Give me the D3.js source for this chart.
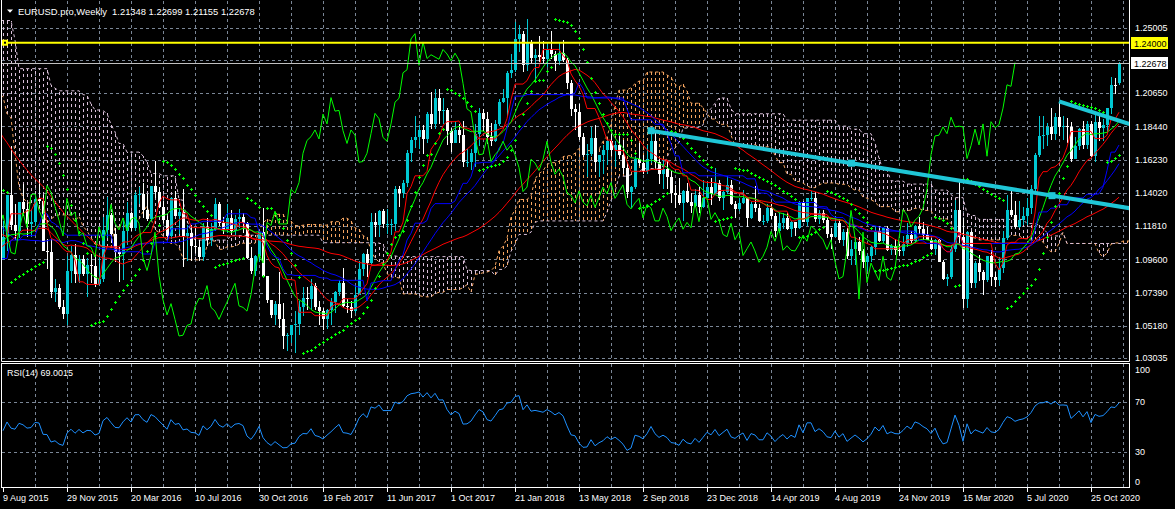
<!DOCTYPE html>
<html><head><meta charset="utf-8">
<script src="https://cdn.jsdelivr.net/npm/d3@7/dist/d3.min.js"></script>
<style>
html,body{margin:0;padding:0;background:#000;overflow:hidden}
svg{display:block}
text{font-family:"Liberation Sans",Arial,sans-serif;font-size:9px;fill:#fff;white-space:pre}
</style></head><body>
<svg id="c" width="1175" height="509"></svg>
<script>
// ---------------- DATA ----------------
// Warm-up weeks (2 Feb 2014 .. 2 Aug 2015), only used by the indicators
const preOpen0 = 1.3485;
const preHigh = [1.3620,1.3715,1.3775,1.3825,1.3915,1.3965,1.3935,1.3875,1.3810,1.3905,1.3905,1.3855,1.3890,1.3995,1.3775,1.3735,1.3650,1.3675,1.3675,1.3645,1.3655,1.3700,1.3650,1.3640,1.3525,1.3440,1.3445,1.3435,1.3400,1.3250,1.3155,1.2995,1.3000,1.2860,1.2700,1.2790,1.2885,1.2835,1.2750,1.2535,1.2575,1.2600,1.2500,1.2455,1.2470,1.2570,1.2255,1.2245,
1.1970,1.1845,1.1680,1.1425,1.1535,1.1445,1.1450,1.1390,1.1245,1.0870,1.1045,1.1050,1.1035,1.1000,1.0850,1.0890,1.1290,1.1390,1.1470,1.1465,1.1055,1.1380,1.1385,1.1435,1.1410,1.1280,1.1215,1.1215,1.0985,1.1125,1.1000];
const preLow = [1.3475,1.3580,1.3640,1.3645,1.3725,1.3830,1.3750,1.3705,1.3675,1.3695,1.3790,1.3780,1.3795,1.3750,1.3650,1.3615,1.3585,1.3505,1.3525,1.3535,1.3570,1.3590,1.3575,1.3490,1.3420,1.3365,1.3335,1.3325,1.3220,1.3130,1.2860,1.2855,1.2780,1.2680,1.2500,1.2500,1.2625,1.2615,1.2440,1.2355,1.2390,1.2360,1.2385,1.2245,1.2245,1.2220,1.2165,1.1995,
1.1755,1.1460,1.1115,1.1100,1.1270,1.1270,1.1260,1.1175,1.0840,1.0460,1.0460,1.0800,1.0715,1.0600,1.0520,1.0660,1.0850,1.1075,1.1130,1.1000,1.0820,1.0890,1.1050,1.1190,1.1135,1.0955,1.0915,1.0810,1.0810,1.0910,1.0850];
const preClose = [1.3600,1.3695,1.3740,1.3800,1.3875,1.3910,1.3790,1.3750,1.3705,1.3885,1.3810,1.3830,1.3870,1.3760,1.3695,1.3630,1.3635,1.3640,1.3545,1.3605,1.3645,1.3595,1.3605,1.3525,1.3430,1.3425,1.3410,1.3400,1.3245,1.3130,1.2950,1.2965,1.2830,1.2685,1.2525,1.2630,1.2760,1.2670,1.2525,1.2450,1.2525,1.2390,1.2450,1.2285,1.2465,1.2225,1.2180,1.2000,
1.1840,1.1565,1.1205,1.1290,1.1315,1.1390,1.1380,1.1195,1.0845,1.0495,1.0825,1.0890,1.0970,1.0600,1.0805,1.0875,1.1200,1.1200,1.1445,1.1015,1.0985,1.1110,1.1265,1.1350,1.1165,1.1105,1.1160,1.0830,1.0980,1.0985,1.0970];

// Visible weekly bars, 9 Aug 2015 .. 13 Dec 2020 (open = previous close, last open given)
const lastOpen = 1.21348;
const high = [1.1215,1.1390,1.1715,1.1330,1.1335,1.1460,1.1335,1.1295,1.1385,1.1495,1.1385,1.1095,1.1095,1.0830,1.0795,1.0690,1.0985,1.1045,1.1060,1.0990,1.0990,
1.0970,1.0995,1.0990,1.0985,1.1240,1.1375,1.1265,1.1165,1.1040,1.1220,1.1340,1.1275,1.1410,1.1440,1.1465,1.1395,1.1450,1.1615,1.1440,1.1350,1.1250,1.1375,1.1415,1.1300,1.1430,1.1185,1.1185,1.1165,1.1085,1.1200,1.1235,1.1200,1.1365,1.1340,1.1240,1.1330,1.1285,1.1255,1.1295,1.1265,1.1205,1.1040,1.0990,1.1145,1.1300,1.0850,1.0690,1.0685,1.0875,1.0670,1.0470,1.0490,
1.0615,1.0685,1.0775,1.0775,1.0830,1.0805,1.0680,1.0635,1.0630,1.0700,1.0750,1.0825,1.0905,1.0695,1.0680,1.0780,1.0950,1.1000,1.1025,1.1265,1.1270,1.1285,1.1295,1.1295,1.1225,1.1445,1.1445,1.1490,1.1685,1.1775,1.1910,1.1850,1.1850,1.1940,1.2070,1.2090,1.2090,1.2035,1.1965,1.1835,1.1880,1.1860,1.1880,1.1690,1.1690,1.1860,1.1965,1.1960,1.1940,1.1865,1.1885,1.2025,
1.2090,1.2215,1.2325,1.2535,1.2520,1.2480,1.2555,1.2415,1.2355,1.2445,1.2410,1.2390,1.2475,1.2345,1.2395,1.2415,1.2295,1.2155,1.1995,1.1995,1.1800,1.1725,1.1840,1.1855,1.1655,1.1720,1.1755,1.1790,1.1745,1.1790,1.1750,1.1610,1.1450,1.1645,1.1735,1.1650,1.1720,1.1815,1.1815,1.1625,1.1625,1.1620,1.1545,1.1455,1.1500,1.1420,1.1470,1.1400,1.1425,1.1440,1.1485,1.1470,
1.1500,1.1570,1.1485,1.1420,1.1515,1.1490,1.1345,1.1370,1.1420,1.1375,1.1340,1.1450,1.1325,1.1255,1.1325,1.1325,1.1265,1.1265,1.1265,1.1265,1.1215,1.1210,1.1350,1.1350,1.1370,1.1415,1.1410,1.1290,1.1285,1.1240,1.1170,1.1250,1.1230,1.1160,1.1165,1.1085,1.1110,1.1110,1.1025,1.0995,1.1045,1.1180,1.1180,1.1175,1.1180,1.1060,1.1095,1.1060,1.1115,1.1200,1.1145,1.1190,
1.1240,1.1205,1.1175,1.1100,1.1095,1.1095,1.0955,1.0865,1.1055,1.1355,1.1495,1.1235,1.1145,1.1145,1.0950,1.0990,1.0890,1.0975,1.1020,1.0875,1.0975,1.1145,1.1385,1.1420,1.1350,1.1350,1.1305,1.1370,1.1455,1.1665,1.1910,1.1915,1.1865,1.1965,1.1930,1.2010,1.1915,1.1900,1.1870,1.1770,1.1830,1.1880,1.1880,1.1880,1.1920,1.1920,1.1895,1.1965,1.2175,1.2165,1.22699];
const low = [1.0955,1.1015,1.1155,1.1085,1.1100,1.1245,1.1105,1.1105,1.1180,1.1325,1.1015,1.0895,1.0705,1.0675,1.0630,1.0565,1.0525,1.0800,1.0805,1.0805,1.0850,
1.0710,1.0805,1.0775,1.0790,1.0810,1.1100,1.1065,1.0940,1.0810,1.0820,1.1055,1.1145,1.1145,1.1325,1.1235,1.1215,1.1215,1.1365,1.1300,1.1200,1.1110,1.1095,1.1245,1.1130,1.0910,1.0950,1.0950,1.1000,1.0950,1.0950,1.1045,1.1045,1.1150,1.1180,1.1125,1.1135,1.1120,1.1120,1.1165,1.1135,1.0965,1.0860,1.0850,1.0940,1.0845,1.0670,1.0570,1.0520,1.0505,1.0365,1.0350,1.0400,
1.0340,1.0455,1.0580,1.0620,1.0620,1.0620,1.0520,1.0490,1.0495,1.0525,1.0600,1.0715,1.0645,1.0605,1.0570,1.0605,1.0720,1.0850,1.0840,1.0925,1.1110,1.1110,1.1170,1.1130,1.1120,1.1150,1.1310,1.1370,1.1440,1.1610,1.1700,1.1690,1.1660,1.1730,1.1825,1.1825,1.1860,1.1860,1.1720,1.1670,1.1730,1.1730,1.1575,1.1575,1.1555,1.1575,1.1715,1.1810,1.1725,1.1715,1.1740,1.1845,
1.2000,1.1915,1.2165,1.2205,1.2335,1.2205,1.2210,1.2260,1.2155,1.2270,1.2260,1.2240,1.2290,1.2215,1.2255,1.2270,1.2095,1.1910,1.1820,1.1750,1.1640,1.1510,1.1645,1.1540,1.1510,1.1525,1.1590,1.1645,1.1575,1.1625,1.1530,1.1365,1.1300,1.1430,1.1580,1.1525,1.1530,1.1600,1.1570,1.1460,1.1430,1.1430,1.1335,1.1300,1.1320,1.1215,1.1335,1.1265,1.1310,1.1270,1.1300,1.1370,
1.1320,1.1395,1.1350,1.1290,1.1395,1.1320,1.1235,1.1280,1.1325,1.1175,1.1225,1.1275,1.1210,1.1185,1.1200,1.1225,1.1110,1.1135,1.1160,1.1155,1.1105,1.1115,1.1160,1.1205,1.1180,1.1345,1.1205,1.1195,1.1200,1.1100,1.1025,1.1110,1.1065,1.1050,1.0965,1.0925,1.0925,1.0990,1.0905,1.0880,1.0940,1.0990,1.1075,1.1070,1.1015,1.0990,1.0990,1.0980,1.0980,1.1040,1.1065,1.1065,
1.1125,1.1085,1.1085,1.1020,1.0990,1.0940,1.0825,1.0780,1.0830,1.1005,1.1055,1.0635,1.0635,1.0770,1.0770,1.0815,1.0725,1.0810,1.0780,1.0775,1.0780,1.0870,1.1090,1.1240,1.1170,1.1170,1.1185,1.1185,1.1260,1.1400,1.1640,1.1695,1.1710,1.1755,1.1755,1.1780,1.1755,1.1735,1.1610,1.1625,1.1685,1.1690,1.1690,1.1640,1.1605,1.1745,1.1745,1.1800,1.1925,1.2060,1.21155];
const close = [1.1105,1.1385,1.1185,1.1150,1.1340,1.1295,1.1195,1.1210,1.1360,1.1345,1.1015,1.1005,1.0740,1.0770,1.0645,1.0595,1.0885,1.0990,1.0865,1.0965,1.0860,
1.0925,1.0915,1.0795,1.0830,1.1155,1.1255,1.1130,1.1005,1.0995,1.1150,1.1270,1.1170,1.1390,1.1395,1.1285,1.1225,1.1450,1.1405,1.1310,1.1220,1.1115,1.1365,1.1250,1.1275,1.1115,1.1135,1.1050,1.1040,1.0975,1.1175,1.1085,1.1160,1.1325,1.1200,1.1155,1.1235,1.1150,1.1225,1.1240,1.1200,1.0970,1.0885,1.0985,1.1140,1.0850,1.0690,1.0590,1.0665,1.0560,1.0450,1.0455,1.0520,
1.0530,1.0645,1.0700,1.0695,1.0785,1.0640,1.0615,1.0560,1.0620,1.0675,1.0740,1.0800,1.0650,1.0640,1.0615,1.0725,1.0895,1.0995,1.0935,1.1205,1.1185,1.1280,1.1195,1.1195,1.1195,1.1425,1.1400,1.1470,1.1665,1.1750,1.1775,1.1820,1.1760,1.1925,1.1860,1.2035,1.1945,1.1950,1.1815,1.1730,1.1820,1.1785,1.1605,1.1610,1.1665,1.1795,1.1930,1.1895,1.1770,1.1745,1.1860,1.2005,
1.2030,1.2200,1.2220,1.2425,1.2460,1.2250,1.2405,1.2295,1.2320,1.2305,1.2290,1.2355,1.2325,1.2280,1.2330,1.2285,1.2130,1.1960,1.1940,1.1770,1.1655,1.1660,1.1765,1.1610,1.1655,1.1685,1.1745,1.1685,1.1720,1.1655,1.1570,1.1410,1.1440,1.1625,1.1600,1.1550,1.1625,1.1745,1.1605,1.1525,1.1560,1.1510,1.1400,1.1385,1.1335,1.1415,1.1340,1.1315,1.1385,1.1305,1.1370,1.1440,
1.1395,1.1470,1.1365,1.1410,1.1455,1.1325,1.1295,1.1335,1.1365,1.1235,1.1325,1.1300,1.1215,1.1215,1.1300,1.1245,1.1150,1.1200,1.1235,1.1160,1.1205,1.1170,1.1335,1.1210,1.1370,1.1370,1.1225,1.1270,1.1220,1.1125,1.1110,1.1200,1.1090,1.1140,1.0985,1.1030,1.1075,1.1015,1.0940,1.0980,1.1040,1.1145,1.1080,1.1165,1.1020,1.1050,1.1020,1.1015,1.1060,1.1120,1.1080,1.1180,
1.1160,1.1120,1.1090,1.1025,1.1090,1.0945,1.0830,1.0845,1.1025,1.1285,1.1105,1.0695,1.1140,1.0805,1.0935,1.0875,1.0820,1.0980,1.0840,1.0820,1.0900,1.1100,1.1290,1.1255,1.1175,1.1220,1.1245,1.1300,1.1425,1.1655,1.1780,1.1785,1.1840,1.1795,1.1905,1.1840,1.1845,1.1840,1.1630,1.1715,1.1825,1.1720,1.1860,1.1645,1.1875,1.1835,1.1855,1.1965,1.2120,1.2110,1.22678];

// Axis labels
const dateLabels = ["9 Aug 2015","29 Nov 2015","20 Mar 2016","10 Jul 2016","30 Oct 2016","19 Feb 2017","11 Jun 2017","1 Oct 2017","21 Jan 2018","13 May 2018","2 Sep 2018","23 Dec 2018","14 Apr 2019","4 Aug 2019","24 Nov 2019","15 Mar 2020","5 Jul 2020","25 Oct 2020"];
const priceGrid = [1.25005,1.2286,1.2065,1.1844,1.1623,1.1402,1.1181,1.0960,1.0739,1.0518,1.03035];
const priceLabels = ["1.25005",null,"1.20650","1.18440","1.16230","1.14020","1.11810","1.09600","1.07390","1.05180","1.03035"];
const rsiLevels = [100,70,30,0];
const hLine = 1.24000;
const title = "EURUSD.pro,Weekly  1.21348 1.22699 1.21155 1.22678";
const rsiTitle = "RSI(14) 69.0015";
// Drawn trend lines (bar index, price)
const trend1 = [{i:162,p:1.1815},{i:262.25,p:1.1383}];
const trend2 = [{i:264,p:1.2010},{i:281.25,p:1.1862}];
const maSpecs = [{n:55,color:"#ff0000"},{n:34,color:"#0000ff"},{n:21,color:"#ff0000"},{n:13,color:"#00ff00"}];

// ---------------- SETUP ----------------
const svg = d3.select("#c");
const P = preClose.length;
const H = preHigh.concat(high), L = preLow.concat(low), C = preClose.concat(close);
const N = C.length;
const O = C.map((c,k)=> k===0 ? preOpen0 : C[k-1]);
O[N-1] = lastOpen;
const nVis = close.length;

const x = d3.scaleLinear().domain([0,281.5]).range([3,1129]);   // visible bar index -> px
const y = d3.scaleLinear().domain([1.03035,1.24]).range([358,42.7]);
const ry = d3.scaleLinear().domain([0,100]).range([489.2,364.2]);
const xk = k => x(k-P);

svg.append("rect").attr("width",1175).attr("height",509).attr("fill","#000");
const defs = svg.append("defs");
defs.append("clipPath").attr("id","cm").append("rect").attr("x",2).attr("y",1).attr("width",1127).attr("height",360);
defs.append("clipPath").attr("id","cr").append("rect").attr("x",2).attr("y",364).attr("width",1127).attr("height",123);

const GRID = "#7a8696";
const main = svg.append("g").attr("clip-path","url(#cm)");
const rsiG = svg.append("g").attr("clip-path","url(#cr)");

// grid
const vGrid = d3.range(1,36).map(k=>8*k);
main.selectAll(".vg").data(vGrid).join("line").attr("x1",d=>Math.round(x(d))+0.5).attr("x2",d=>Math.round(x(d))+0.5)
  .attr("y1",1).attr("y2",361).attr("stroke",GRID).attr("stroke-dasharray","3,3");
main.selectAll(".hg").data(priceGrid).join("line").attr("x1",2).attr("x2",1129)
  .attr("y1",d=>Math.round(y(d))+0.5).attr("y2",d=>Math.round(y(d))+0.5).attr("stroke",GRID).attr("stroke-dasharray","3,3");
rsiG.selectAll(".vg").data(vGrid).join("line").attr("x1",d=>Math.round(x(d))+0.5).attr("x2",d=>Math.round(x(d))+0.5)
  .attr("y1",364).attr("y2",487).attr("stroke",GRID).attr("stroke-dasharray","3,3");
rsiG.selectAll(".hg").data([70,30]).join("line").attr("x1",2).attr("x2",1129)
  .attr("y1",d=>Math.round(ry(d))+0.5).attr("y2",d=>Math.round(ry(d))+0.5).attr("stroke",GRID).attr("stroke-dasharray","3,3");

// ---------------- INDICATORS ----------------
function hh(k,n){let m=-Infinity;for(let j=k-n+1;j<=k;j++)m=Math.max(m,H[j]);return m;}
function ll(k,n){let m=Infinity;for(let j=k-n+1;j<=k;j++)m=Math.min(m,L[j]);return m;}
const tenkan=[],kijun=[];
for(let k=0;k<N;k++){
  tenkan[k]= k>=8 ? (hh(k,9)+ll(k,9))/2 : null;
  kijun[k] = k>=25 ? (hh(k,26)+ll(k,26))/2 : null;
}
// cloud plotted 26 bars ahead
const cloud=[];
for(let k=51;k<N;k++){
  const a=(tenkan[k]+kijun[k])/2, b=(hh(k,52)+ll(k,52))/2;
  cloud.push({k:k+26,a,b});
}
const cloudVis = cloud.filter(d=>d.k>=P-2);
function sma(n){return C.map((c,k)=>{if(k<n-1)return null;let s=0;for(let j=k-n+1;j<=k;j++)s+=C[j];return s/n;});}
function psar(step,max){
  const out=[];let up=true,af=step,ep=H[0],sar=L[0];out[0]=sar;
  for(let i=1;i<N;i++){
    let s=sar+af*(ep-sar);
    if(up){
      s=Math.min(s,L[i-1],i>1?L[i-2]:L[i-1]);
      if(L[i]<s){up=false;s=ep;ep=L[i];af=step;}
      else if(H[i]>ep){ep=H[i];af=Math.min(af+step,max);}
    }else{
      s=Math.max(s,H[i-1],i>1?H[i-2]:H[i-1]);
      if(H[i]>s){up=true;s=ep;ep=H[i];af=step;}
      else if(L[i]<ep){ep=L[i];af=Math.min(af+step,max);}
    }
    sar=s;out[i]=s;
  }
  return out;
}
function rsi(n){
  const out=new Array(N).fill(null);let g=0,l=0;
  for(let i=1;i<=n;i++){const d=C[i]-C[i-1];g+=Math.max(d,0);l+=Math.max(-d,0);}
  g/=n;l/=n;out[n]=100-100/(1+g/l);
  for(let i=n+1;i<N;i++){const d=C[i]-C[i-1];g=(g*(n-1)+Math.max(d,0))/n;l=(l*(n-1)+Math.max(-d,0))/n;out[i]=l===0?100:100-100/(1+g/l);}
  return out;
}

// cloud hatch
main.append("g").attr("shape-rendering","crispEdges").selectAll(".hatch").data(cloudVis).join("line")
  .attr("x1",d=>Math.round(xk(d.k))+0.5).attr("x2",d=>Math.round(xk(d.k))+0.5)
  .attr("y1",d=>Math.round(y(d.a))).attr("y2",d=>Math.round(y(d.b)))
  .attr("stroke",d=>d.a>d.b?"#f4a460":"#d8bfd8").attr("stroke-dasharray","3,3");
const lineK = d3.line().x(d=>xk(d.k)).y(d=>y(d.v));
main.append("path").attr("d",lineK(cloudVis.map(d=>({k:d.k,v:d.a})))).attr("fill","none").attr("stroke","#f4a460").attr("stroke-dasharray","3,3");
main.append("path").attr("d",lineK(cloudVis.map(d=>({k:d.k,v:d.b})))).attr("fill","none").attr("stroke","#d8bfd8").attr("stroke-dasharray","3,3");

// candles
const bars = d3.range(P,N).map(k=>({k,o:O[k],h:H[k],l:L[k],c:C[k]}));
const BULL="#00c8d2", BEAR="#ffffff";
const cg = main.append("g").attr("shape-rendering","crispEdges");
cg.selectAll(".wick").data(bars).join("line")
  .attr("x1",d=>Math.round(xk(d.k))+0.5).attr("x2",d=>Math.round(xk(d.k))+0.5)
  .attr("y1",d=>y(d.h)).attr("y2",d=>y(d.l)).attr("stroke",d=>d.c>=d.o?BULL:BEAR);
cg.selectAll(".body").data(bars).join("rect")
  .attr("x",d=>Math.round(xk(d.k))-1).attr("width",3)
  .attr("y",d=>y(Math.max(d.o,d.c))).attr("height",d=>Math.max(1,Math.abs(y(d.o)-y(d.c))))
  .attr("fill",d=>d.c>=d.o?BULL:BEAR);

// lines
function series(arr,shift=0){const out=[];for(let k=P-2;k<N;k++){const src=k-shift;if(src>=0&&src<N&&arr[src]!=null)out.push({k,v:arr[src]});}return out;}
function drawLine(pts,color,w=1){main.append("path").attr("d",lineK(pts)).attr("fill","none").attr("stroke",color).attr("stroke-width",w);}
maSpecs.forEach(m=>drawLine(series(sma(m.n)),m.color));
drawLine(series(kijun),"#0000ff");
drawLine(series(tenkan),"#ff0000");
// chikou: close shifted back 26
const chik=[];for(let k=P-2;k<N-26;k++)chik.push({k,v:C[k+26]});
drawLine(chik,"#00ff00");

// parabolic SAR
const sar=psar(0.02,0.2);
const sarPts=d3.range(P,N).map(k=>({k,v:sar[k]}));
const sg=main.append("g").attr("fill","#00ff00").attr("shape-rendering","crispEdges");
sg.selectAll(".sh").data(sarPts).join("rect").attr("x",d=>Math.round(xk(d.k))-1).attr("y",d=>Math.round(y(d.v))).attr("width",3).attr("height",1);
sg.selectAll(".sv").data(sarPts).join("rect").attr("x",d=>Math.round(xk(d.k))).attr("y",d=>Math.round(y(d.v))-1).attr("width",1).attr("height",3);

// trend lines
const TL="#1fc6d6";
function ray(t){const s=(t[1].p-t[0].p)/(t[1].i-t[0].i);const iEnd=283;return [t[0],{i:iEnd,p:t[0].p+s*(iEnd-t[0].i)}];}
const lineI=d3.line().x(d=>x(d.i)).y(d=>y(d.p));
main.append("path").attr("d",lineI(ray(trend1))).attr("stroke",TL).attr("stroke-width",4).attr("fill","none");
main.append("path").attr("d",lineI(ray(trend2))).attr("stroke",TL).attr("stroke-width",4).attr("fill","none");
const handles=[trend1[0],{i:(trend1[0].i+trend1[1].i)/2,p:(trend1[0].p+trend1[1].p)/2},trend1[1]];
main.selectAll(".hd").data(handles).join("rect").attr("x",d=>x(d.i)-3.5).attr("y",d=>y(d.p)-3.5).attr("width",7).attr("height",7).attr("fill",TL);

// current price line
main.append("line").attr("x1",2).attr("x2",1129).attr("y1",Math.round(y(close[nVis-1]))+0.5).attr("y2",Math.round(y(close[nVis-1]))+0.5).attr("stroke","#c0c0c0");
// horizontal line 1.24
main.append("line").attr("x1",2).attr("x2",1129).attr("y1",y(hLine)).attr("y2",y(hLine)).attr("stroke","#ffff00").attr("stroke-width",2);
svg.append("rect").attr("x",2).attr("y",y(hLine)-3).attr("width",6).attr("height",6).attr("fill","#ffff00");
svg.append("rect").attr("x",4).attr("y",y(hLine)-1).attr("width",2).attr("height",2).attr("fill","#000");

// RSI
const r=rsi(14);
const rPts=d3.range(P,N).map(k=>({k,v:r[k]}));
rsiG.append("path").attr("d",d3.line().x(d=>xk(d.k)).y(d=>ry(d.v))(rPts)).attr("fill","none").attr("stroke","#1e90ff");

// frames
svg.append("path").attr("d","M1.5,0V361.5H1129.5V0").attr("fill","none").attr("stroke","#fff");
svg.append("rect").attr("x",1.5).attr("y",363.5).attr("width",1128).attr("height",124).attr("fill","none").attr("stroke","#fff");

// price axis labels
priceGrid.forEach((p,j)=>{ if(priceLabels[j]) svg.append("text").attr("x",1135).attr("y",y(p)+3.3).text(priceLabels[j]); });
// value boxes
function box(p,bg,label){const yy=Math.round(y(p));svg.append("rect").attr("x",1131).attr("y",yy-6).attr("width",37).attr("height",12).attr("fill",bg);
  svg.append("text").attr("x",1134).attr("y",yy+3.5).style("fill","#000").text(label);}
box(hLine,"#ffff00",d3.format(".5f")(hLine));
box(close[nVis-1],"#ffffff",d3.format(".5f")(close[nVis-1]));

// RSI axis
svg.selectAll(".rl").data(rsiLevels).join("text").attr("x",1135)
  .attr("y",d=>d===100?373.3:d===0?485:ry(d)+3.3).text(d=>d);

// date axis
dateLabels.forEach((lab,j)=>{const xx=Math.round(x(16*j))+0.5;
  svg.append("line").attr("x1",xx).attr("x2",xx).attr("y1",488).attr("y2",492).attr("stroke","#fff");
  svg.append("text").attr("x",xx-0.5).attr("y",501).text(lab);});

// titles
svg.append("path").attr("d","M7,9.5H13L10,12.8Z").attr("fill","#fff");
svg.append("text").attr("x",18).attr("y",14.5).style("font-size","9.4px").text(title);
svg.append("text").attr("x",7).attr("y",375.5).text(rsiTitle);
</script></body></html>
